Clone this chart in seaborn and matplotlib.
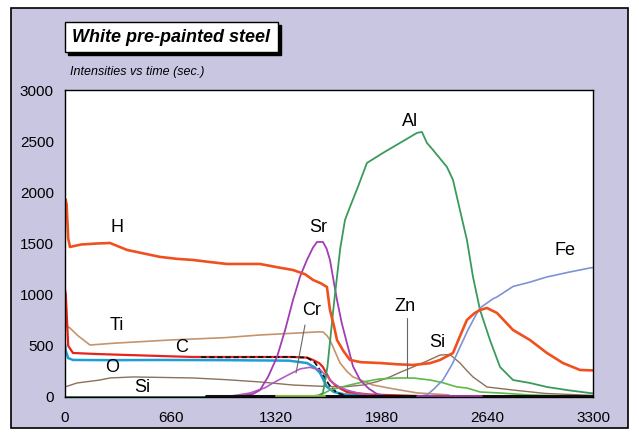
import numpy as np
import pandas as pd
import matplotlib
matplotlib.use("Agg")
import matplotlib.pyplot as plt
from matplotlib.patches import Rectangle
import seaborn as sns

sns.set_theme(style="white")
plt.rcParams['font.family'] = ['Liberation Sans', 'DejaVu Sans']
plt.rcParams['text.color'] = 'black'

# ---------------- data (time in s, intensity) ----------------
H_t = [0, 4, 10, 20, 31, 100, 200, 281, 388, 500, 594, 700, 800, 900, 1012, 1100, 1219, 1320, 1425, 1500,
       1550, 1600, 1637, 1656, 1680, 1700, 1740, 1781, 1850, 1969, 2075, 2175, 2280, 2344, 2425, 2470,
       2512, 2560, 2594, 2637, 2700, 2800, 2906, 3012, 3112, 3219, 3300]
H_v = [1800, 1930, 1880, 1550, 1466, 1490, 1500, 1505, 1437, 1400, 1369, 1350, 1339, 1320, 1300, 1300,
       1300, 1270, 1241, 1200, 1144, 1110, 1075, 850, 700, 557, 450, 362, 340, 332, 320, 313, 330, 362,
       430, 600, 753, 820, 850, 870, 821, 655, 557, 430, 332, 264, 260]

C_t = [0, 5, 20, 50, 200, 400, 800, 1200, 1425, 1512, 1550, 1590, 1612, 1656, 1700, 1762, 1900, 2100, 2300]
C_v = [1050, 1000, 500, 430, 420, 410, 391, 391, 391, 385, 362, 330, 293, 166, 100, 49, 25, 15, 5]

O_t = [0, 5, 20, 50, 300, 600, 1000, 1400, 1512, 1560, 1594, 1637, 1680, 1750, 1900, 2000, 2100]
O_v = [520, 450, 380, 362, 360, 362, 360, 355, 332, 290, 235, 98, 49, 25, 15, 10, 5]

K_t = [850, 1000, 1200, 1425, 1512, 1560, 1600, 1650, 1700, 1760]
K_v = [390, 388, 390, 391, 385, 340, 250, 120, 40, 10]

B_t = [880, 3300]
B_v = [8, 8]

Ti_t = [0, 15, 31, 80, 156, 300, 656, 1000, 1219, 1450, 1575, 1612, 1637, 1656, 1700, 1719, 1762,
        1800, 1925, 2050, 2200, 2400]
Ti_v = [700, 690, 674, 600, 508, 525, 557, 580, 606, 625, 636, 636, 600, 557, 400, 332, 250, 196,
        117, 80, 40, 20]

Si_t = [0, 75, 219, 281, 425, 800, 1000, 1219, 1425, 1600, 1737, 1862, 1950, 2031, 2100, 2175, 2260,
        2344, 2406, 2469, 2510, 2550, 2637, 2800, 3000, 3300]
Si_v = [98, 137, 166, 186, 196, 186, 170, 147, 117, 105, 98, 117, 150, 196, 245, 293, 350, 410, 415,
        332, 260, 196, 98, 68, 35, 15]

Sr_t = [0, 1000, 1100, 1175, 1219, 1270, 1325, 1375, 1425, 1470, 1512, 1550, 1575, 1612, 1635, 1656,
        1700, 1730, 1762, 1800, 1844, 1900, 1950, 2000]
Sr_v = [0, 0, 10, 30, 68, 200, 391, 650, 948, 1180, 1339, 1460, 1515, 1515, 1450, 1339, 948, 720, 528,
        300, 166, 80, 30, 10]

Cr_t = [0, 1000, 1156, 1250, 1300, 1400, 1470, 1531, 1594, 1640, 1675, 1720, 1762, 1850, 1950]
Cr_v = [0, 0, 39, 90, 137, 220, 275, 290, 264, 200, 137, 95, 68, 30, 10]

Al_t = [0, 1500, 1580, 1612, 1640, 1680, 1720, 1750, 1781, 1830, 1887, 1987, 2094, 2200, 2231, 2262,
        2300, 2387, 2425, 2487, 2512, 2550, 2594, 2656, 2719, 2800, 2906, 3012, 3150, 3300]
Al_v = [0, 0, 10, 39, 293, 900, 1450, 1730, 1857, 2050, 2287, 2385, 2483, 2581, 2590, 2483, 2414,
        2248, 2121, 1701, 1535, 1173, 850, 557, 293, 166, 137, 98, 65, 35]

Zn_t = [1500, 1600, 1656, 1760, 1862, 1960, 2075, 2180, 2281, 2360, 2450, 2512, 2594, 2719, 2900, 3300]
Zn_v = [0, 20, 68, 110, 147, 175, 186, 185, 166, 140, 98, 88, 49, 39, 20, 5]

Fe_t = [2150, 2200, 2262, 2300, 2362, 2420, 2469, 2520, 2575, 2594, 2675, 2700, 2800, 2900, 3012,
        3150, 3281, 3300]
Fe_v = [0, 5, 20, 70, 166, 320, 489, 660, 821, 870, 960, 978, 1080, 1120, 1173, 1220, 1261, 1265]

G_t = [1320, 1620]
G_v = [8, 8]
M_t = [2200, 2600]
M_v = [8, 8]

x_ticks = [0, 660, 1320, 1980, 2640, 3300]
y_ticks = [0, 500, 1000, 1500, 2000, 2500, 3000]

series = [
    ("Ti", Ti_t, Ti_v, "#c4946e", 1.2, "-"),
    ("Si", Si_t, Si_v, "#8c7058", 1.0, "-"),
    ("O", O_t, O_v, "#1c9fd6", 1.8, "-"),
    ("C", C_t, C_v, "#e8231c", 1.6, "-"),
    ("K", K_t, K_v, "#111111", 1.3, (0, (3, 1.5))),
    ("Zn", Zn_t, Zn_v, "#5fb84a", 1.2, "-"),
    ("Cr", Cr_t, Cr_v, "#b35cc4", 1.2, "-"),
    ("Sr", Sr_t, Sr_v, "#a33cb5", 1.3, "-"),
    ("Al", Al_t, Al_v, "#3a9a5c", 1.3, "-"),
    ("Fe", Fe_t, Fe_v, "#7d93d3", 1.2, "-"),
    ("H", H_t, H_v, "#f0501e", 1.9, "-"),
    ("B", B_t, B_v, "#111111", 2.2, "-"),
    ("G", G_t, G_v, "#8fbf3a", 2.2, "-"),
    ("M", M_t, M_v, "#b040b0", 2.0, "-"),
]

labels = [
    ("H", 325, 1652), ("Ti", 325, 694), ("C", 731, 479), ("O", 293, 293), ("Si", 481, 88),
    ("Cr", 1544, 850), ("Sr", 1581, 1652), ("Al", 2156, 2688), ("Zn", 2125, 880),
    ("Si", 2325, 528), ("Fe", 3125, 1427),
]

# ---------------- figure ----------------
W, Hh = 639, 437
fig = plt.figure(figsize=(W / 100, Hh / 100), dpi=100)
fig.patch.set_facecolor("white")
fig.patches.append(Rectangle((11 / W, 1 - 428 / Hh), (628 - 11) / W, (428 - 8) / Hh,
                             transform=fig.transFigure, facecolor="#c9c6e2",
                             edgecolor="black", linewidth=1.2, zorder=0))

ax = fig.add_axes([65 / W, 1 - 397 / Hh, (593 - 65) / W, (397 - 90) / Hh])
ax.set_zorder(5)
ax.set_facecolor("white")

for name, t, v, col, lw, ls in series:
    df = pd.DataFrame({"t": t, "v": v})
    sns.lineplot(data=df, x="t", y="v", ax=ax, color=col, linewidth=lw, linestyle=ls,
                 estimator=None, sort=False, legend=False)

for txt, x, y in labels:
    ax.text(x, y, txt, fontsize=13, ha="center", va="center", color="black")

# pointer lines
ax.plot([1500, 1444], [704, 235], color="#666666", linewidth=0.8)
ax.plot([2137, 2137], [772, 196], color="#666666", linewidth=0.8)

ax.set_xlim(0, 3300)
ax.set_ylim(0, 3000)
ax.set_xticks(x_ticks)
ax.set_yticks(y_ticks)
ax.set_xticklabels([str(v) for v in x_ticks])
ax.set_yticklabels([str(v) for v in y_ticks])
ax.set_xlabel("")
ax.set_ylabel("")
ax.tick_params(axis="x", direction="inout", length=8, width=1, labelsize=11, pad=6, colors="black")
ax.tick_params(axis="y", direction="out", length=5, width=1, labelsize=11, pad=3, colors="black")
for s in ax.spines.values():
    s.set_color("black")
    s.set_linewidth(1.0)
    s.set_visible(True)

# title box with shadow
fig.patches.append(Rectangle((68 / W, 1 - 55 / Hh), (278 - 65) / W, (52 - 22) / Hh,
                             transform=fig.transFigure, facecolor="black", edgecolor="black",
                             linewidth=1, zorder=1))
fig.patches.append(Rectangle((65 / W, 1 - 52 / Hh), (278 - 65) / W, (52 - 22) / Hh,
                             transform=fig.transFigure, facecolor="white", edgecolor="black",
                             linewidth=1, zorder=2))
fig.text(171 / W, 1 - 37 / Hh, "White pre-painted steel", fontsize=13, fontweight="bold",
         fontstyle="italic", ha="center", va="center", zorder=3, color="black")
fig.text(70 / W, 1 - 72 / Hh, "Intensities vs time (sec.)", fontsize=9, fontstyle="italic",
         ha="left", va="center", zorder=3, color="black")

fig.savefig("out.png", dpi=100)
